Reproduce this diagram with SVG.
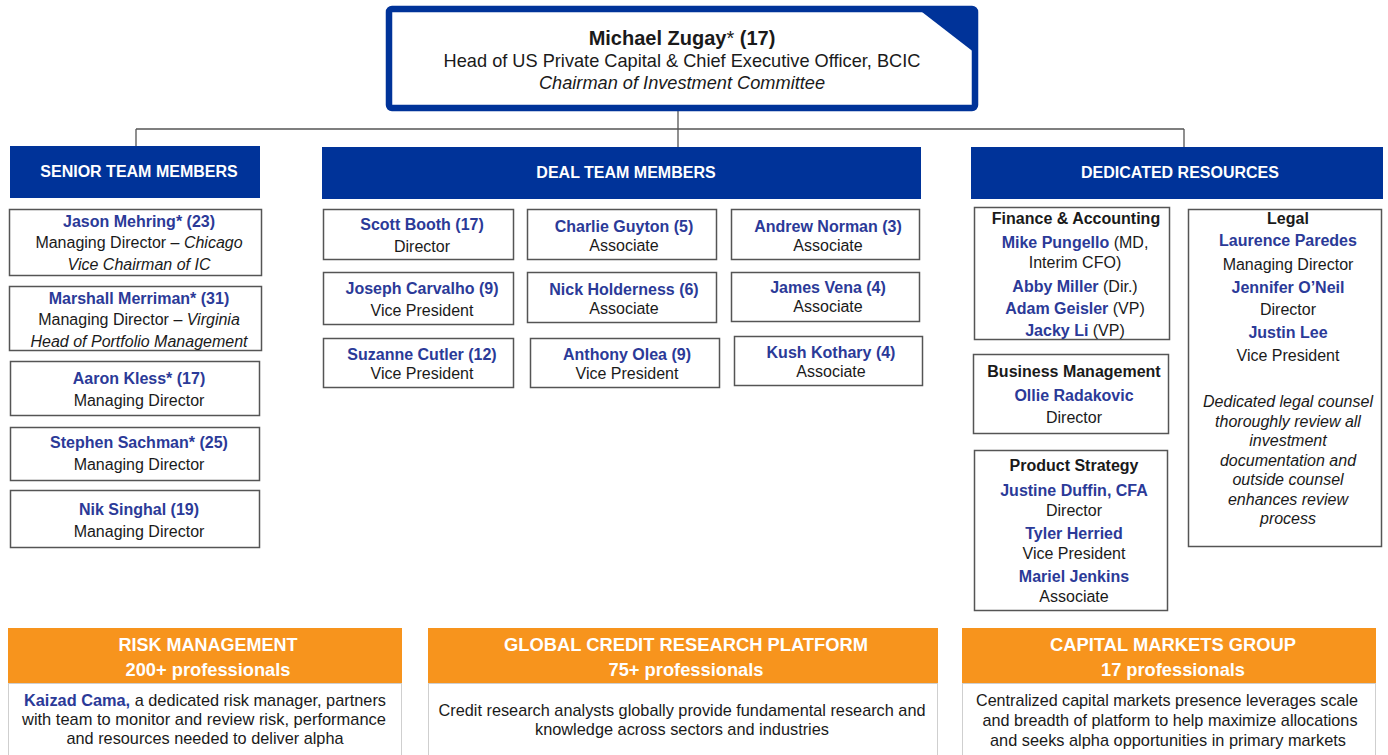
<svg xmlns="http://www.w3.org/2000/svg" width="1388" height="755" viewBox="0 0 1388 755">
<style>
text{font-family:"Liberation Sans",Arial,sans-serif;font-size:16px;fill:#1a1a1a;text-anchor:middle}
.nm{fill:#2b3a98;font-weight:bold}
.b{font-weight:bold}
.i{font-style:italic}
.hd{fill:#ffffff;font-weight:bold;font-size:16px}
.oh{fill:#ffffff;font-weight:bold;font-size:19px}
.box{fill:#ffffff;stroke:#555555;stroke-width:1.5}
.blue{fill:#003399}
.orange{fill:#f7941d}
.body{fill:#ffffff;stroke:#cfcfcf;stroke-width:1}
.ob{font-size:17px}
.li{font-style:italic;font-size:16px}
.conn{stroke:#555555;stroke-width:1.3;fill:none}
</style>
<rect width="1388" height="755" fill="#ffffff"/>
<g id="connectors">
<path class="conn" d="M678 111V147M136 129H1184M136 129V146M1184 129V147"/>
</g>
<g id="head">
<rect x="389" y="9" width="586" height="99" rx="3" fill="#ffffff" stroke="#003399" stroke-width="6.5"/>
<path d="M922 12H975V53Z" class="blue"/>
<text x="682" y="45" class="b" style="font-size:20px">Michael Zugay<tspan style="font-weight:normal">*</tspan> (17)</text>
<text x="682" y="67" style="font-size:18.2px">Head of US Private Capital &amp; Chief Executive Officer, BCIC</text>
<text x="682" y="89" class="i" style="font-size:18.2px">Chairman of Investment Committee</text>
</g>
<g id="senior-header"><rect x="10" y="146" width="250" height="52" class="blue"/><text x="139" y="177" class="hd">SENIOR TEAM MEMBERS</text></g>
<g id="deal-header"><rect x="322" y="147" width="599" height="52" class="blue"/><text x="626" y="178" class="hd">DEAL TEAM MEMBERS</text></g>
<g id="dedicated-header"><rect x="971" y="147" width="412" height="52" class="blue"/><text x="1180" y="178" class="hd">DEDICATED RESOURCES</text></g>

<g id="s1"><rect x="9.5" y="209.5" width="252" height="66" class="box"/><text x="139" y="227" class="nm">Jason Mehring* (23)</text><text x="139" y="248">Managing Director – <tspan class="i">Chicago</tspan></text><text x="139" y="270" class="i">Vice Chairman of IC</text></g>
<g id="s2"><rect x="9.5" y="286.5" width="252" height="64" class="box"/><text x="139" y="304" class="nm">Marshall Merriman* (31)</text><text x="139" y="325">Managing Director – <tspan class="i">Virginia</tspan></text><text x="139" y="347" class="i">Head of Portfolio Management</text></g>
<g id="s3"><rect x="10.5" y="361.5" width="249" height="54" class="box"/><text x="139" y="384" class="nm">Aaron Kless* (17)</text><text x="139" y="406">Managing Director</text></g>
<g id="s4"><rect x="10.5" y="427.5" width="249" height="53" class="box"/><text x="139" y="448" class="nm">Stephen Sachman* (25)</text><text x="139" y="470">Managing Director</text></g>
<g id="s5"><rect x="10.5" y="490.5" width="249" height="57" class="box"/><text x="139" y="515" class="nm">Nik Singhal (19)</text><text x="139" y="537">Managing Director</text></g>

<g id="d1"><rect x="323.5" y="209.5" width="190" height="50" class="box"/><text x="422" y="230" class="nm">Scott Booth (17)</text><text x="422" y="252">Director</text></g>
<g id="d2"><rect x="527.5" y="209.5" width="189" height="50" class="box"/><text x="624" y="232" class="nm">Charlie Guyton (5)</text><text x="624" y="251">Associate</text></g>
<g id="d3"><rect x="731.5" y="209.5" width="188" height="50" class="box"/><text x="828" y="232" class="nm">Andrew Norman (3)</text><text x="828" y="251">Associate</text></g>
<g id="d4"><rect x="323.5" y="272.5" width="190" height="52" class="box"/><text x="422" y="294" class="nm">Joseph Carvalho (9)</text><text x="422" y="316">Vice President</text></g>
<g id="d5"><rect x="527.5" y="272.5" width="189" height="50" class="box"/><text x="624" y="295" class="nm">Nick Holderness (6)</text><text x="624" y="314">Associate</text></g>
<g id="d6"><rect x="731.5" y="272.5" width="188" height="49" class="box"/><text x="828" y="293" class="nm">James Vena (4)</text><text x="828" y="312">Associate</text></g>
<g id="d7"><rect x="323.5" y="338.5" width="190" height="49" class="box"/><text x="422" y="360" class="nm">Suzanne Cutler (12)</text><text x="422" y="379">Vice President</text></g>
<g id="d8"><rect x="530.5" y="338.5" width="189" height="49" class="box"/><text x="627" y="360" class="nm">Anthony Olea (9)</text><text x="627" y="379">Vice President</text></g>
<g id="d9"><rect x="734.5" y="336.5" width="188" height="49" class="box"/><text x="831" y="358" class="nm">Kush Kothary (4)</text><text x="831" y="377">Associate</text></g>

<g id="finance"><rect x="974.5" y="207.5" width="195" height="132" class="box"/>
<text x="1076" y="224" class="b">Finance &amp; Accounting</text>
<text x="1075" y="248"><tspan class="nm">Mike Pungello</tspan> (MD,</text>
<text x="1075" y="268">Interim CFO)</text>
<text x="1075" y="292"><tspan class="nm">Abby Miller</tspan> (Dir.)</text>
<text x="1075" y="314"><tspan class="nm">Adam Geisler</tspan> (VP)</text>
<text x="1075" y="336"><tspan class="nm">Jacky Li</tspan> (VP)</text></g>
<g id="business"><rect x="973.5" y="354.5" width="195" height="79" class="box"/>
<text x="1074" y="377" class="b">Business Management</text>
<text x="1074" y="401" class="nm">Ollie Radakovic</text>
<text x="1074" y="423">Director</text></g>
<g id="product"><rect x="974.5" y="450.5" width="193" height="160" class="box"/>
<text x="1074" y="471" class="b">Product Strategy</text>
<text x="1074" y="496" class="nm">Justine Duffin, CFA</text>
<text x="1074" y="516">Director</text>
<text x="1074" y="539" class="nm">Tyler Herried</text>
<text x="1074" y="559">Vice President</text>
<text x="1074" y="582" class="nm">Mariel Jenkins</text>
<text x="1074" y="602">Associate</text></g>
<g id="legal"><rect x="1188.5" y="209.5" width="193" height="337" class="box"/>
<text x="1288" y="224" class="b">Legal</text>
<text x="1288" y="246" class="nm">Laurence Paredes</text>
<text x="1288" y="270">Managing Director</text>
<text x="1288" y="293" class="nm">Jennifer O’Neil</text>
<text x="1288" y="315">Director</text>
<text x="1288" y="338" class="nm">Justin Lee</text>
<text x="1288" y="361">Vice President</text>
<text x="1288" y="407" class="li">Dedicated legal counsel</text>
<text x="1288" y="427" class="li">thoroughly review all</text>
<text x="1288" y="446" class="li">investment</text>
<text x="1288" y="466" class="li">documentation and</text>
<text x="1288" y="485" class="li">outside counsel</text>
<text x="1288" y="505" class="li">enhances review</text>
<text x="1288" y="524" class="li">process</text></g>

<g id="risk">
<rect x="8.5" y="683.5" width="393" height="80" class="body"/>
<rect x="8" y="628" width="394" height="55" class="orange"/>
<text x="208" y="651" class="oh" textLength="179" lengthAdjust="spacingAndGlyphs">RISK MANAGEMENT</text>
<text x="208" y="676" class="oh" textLength="165" lengthAdjust="spacingAndGlyphs">200+ professionals</text>
<text x="205" y="706" class="ob" textLength="362" lengthAdjust="spacingAndGlyphs"><tspan class="nm">Kaizad Cama,</tspan> a dedicated risk manager, partners</text>
<text x="204" y="725" class="ob" textLength="364" lengthAdjust="spacingAndGlyphs">with team to monitor and review risk, performance</text>
<text x="205" y="744" class="ob" textLength="277" lengthAdjust="spacingAndGlyphs">and resources needed to deliver alpha</text>
</g>
<g id="research">
<rect x="428.5" y="683.5" width="509" height="80" class="body"/>
<rect x="428" y="628" width="510" height="55" class="orange"/>
<text x="686" y="651" class="oh" textLength="364" lengthAdjust="spacingAndGlyphs">GLOBAL CREDIT RESEARCH PLATFORM</text>
<text x="686" y="676" class="oh" textLength="155" lengthAdjust="spacingAndGlyphs">75+ professionals</text>
<text x="682" y="716" class="ob" textLength="487" lengthAdjust="spacingAndGlyphs">Credit research analysts globally provide fundamental research and</text>
<text x="682" y="735" class="ob" textLength="294" lengthAdjust="spacingAndGlyphs">knowledge across sectors and industries</text>
</g>
<g id="capital">
<rect x="962.5" y="683.5" width="413" height="80" class="body"/>
<rect x="962" y="628" width="414" height="55" class="orange"/>
<text x="1173" y="651" class="oh" textLength="246" lengthAdjust="spacingAndGlyphs">CAPITAL MARKETS GROUP</text>
<text x="1173" y="676" class="oh" textLength="144" lengthAdjust="spacingAndGlyphs">17 professionals</text>
<text x="1167" y="706" class="ob" textLength="382" lengthAdjust="spacingAndGlyphs">Centralized capital markets presence leverages scale</text>
<text x="1170" y="726" class="ob" textLength="375" lengthAdjust="spacingAndGlyphs">and breadth of platform to help maximize allocations</text>
<text x="1168" y="746" class="ob" textLength="356" lengthAdjust="spacingAndGlyphs">and seeks alpha opportunities in primary markets</text>
</g>
</svg>
